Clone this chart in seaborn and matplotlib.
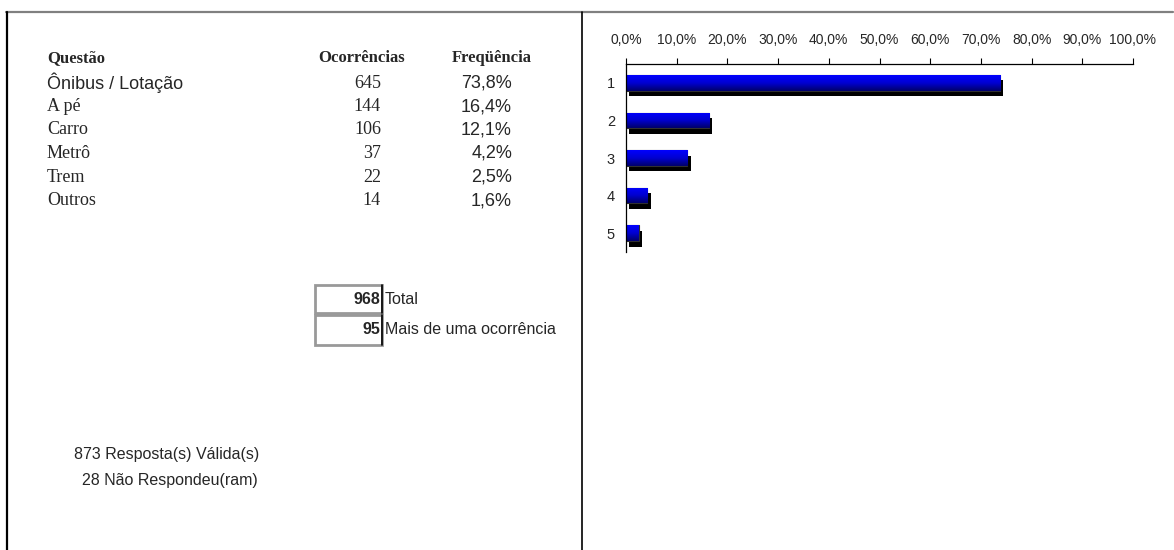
import numpy as np
import matplotlib
matplotlib.use('Agg')
import matplotlib.pyplot as plt
import matplotlib.patheffects as pe
from matplotlib.colors import LinearSegmentedColormap
from matplotlib.lines import Line2D
from matplotlib.patches import Rectangle
import seaborn as sns

# ==============================================================================
# DATA
# ==============================================================================
header = ['Questão', 'Ocorrências', 'Freqüência']
questions = ['Ônibus / Lotação', 'A pé', 'Carro', 'Metrô', 'Trem', 'Outros']
occurrences = [645, 144, 106, 37, 22, 14]
frequency = [73.8, 16.4, 12.1, 4.2, 2.5, 1.6]

bar_labels = ['1', '2', '3', '4', '5']
bar_values = [73.8, 16.4, 12.1, 4.2, 2.5]
x_ticks = [0, 10, 20, 30, 40, 50, 60, 70, 80, 90, 100]

total = 968
multi = 95
valid = 873
no_answer = 28

# ==============================================================================
# STYLE
# ==============================================================================
sns.set_style('white')
SANS = 'Liberation Sans'
SERIF = 'Liberation Serif'
plt.rcParams['font.family'] = [SANS, 'DejaVu Sans']

W, H = 1174, 550
fig = plt.figure(figsize=(W / 100, H / 100), dpi=100)
fig.patch.set_facecolor('white')


def fx(x):
    return x / W


def fy(y):
    return 1 - y / H


# frame lines
fig.add_artist(Line2D([fx(6), fx(1173)], [fy(12), fy(12)], color='#808080', lw=1.6))
fig.add_artist(Line2D([fx(7), fx(7)], [fy(12), fy(550)], color='black', lw=1.6))
fig.add_artist(Line2D([fx(582), fx(582)], [fy(12), fy(550)], color='black', lw=1.2))

# ==============================================================================
# LEFT TABLE
# ==============================================================================
fig.text(fx(47), fy(58), header[0], family=SERIF, weight='bold', fontsize=12, va='center', ha='left')
fig.text(fx(362), fy(58), header[1], family=SERIF, weight='bold', fontsize=12, va='center', ha='center')
fig.text(fx(492), fy(58), header[2], family=SERIF, weight='bold', fontsize=12, va='center', ha='center')

row_y = [83, 106.5, 130, 153.5, 177, 200.5]
for i, (q, n, f) in enumerate(zip(questions, occurrences, frequency)):
    fam = [SANS] if i == 0 else [SERIF]
    fig.text(fx(47), fy(row_y[i]), q, family=fam, fontsize=13, va='center', ha='left')
    fig.text(fx(381), fy(row_y[i]), str(n), family=SERIF, fontsize=13, va='center', ha='right')
    fig.text(fx(512), fy(row_y[i]), f"{f:.1f}%".replace('.', ','), family=SANS, fontsize=13,
             va='center', ha='right')

# totals boxes
for top, bot, val, lab in [(285, 313, total, 'Total'), (315, 345, multi, 'Mais de uma ocorrência')]:
    fig.add_artist(Rectangle((fx(315), fy(bot)), fx(382) - fx(315), fy(top) - fy(bot),
                             transform=fig.transFigure, fill=False, edgecolor='#999999', lw=2))
    fig.add_artist(Line2D([fx(382), fx(382)], [fy(top), fy(bot)], color='black', lw=1.2))
    mid = (top + bot) / 2
    fig.text(fx(380), fy(mid), str(val), weight='bold', fontsize=11.5, va='center', ha='right')
    fig.text(fx(385), fy(mid), lab, fontsize=11.5, va='center', ha='left')

fig.text(fx(74), fy(455), f"{valid} Resposta(s) Válida(s)", fontsize=11.5, va='center', ha='left')
fig.text(fx(82), fy(480), f"{no_answer} Não Respondeu(ram)", fontsize=11.5, va='center', ha='left')

# ==============================================================================
# BAR CHART
# ==============================================================================
ax = fig.add_axes([fx(626), fy(252), fx(1133) - fx(626), fy(64) - fy(252)])
sns.barplot(x=bar_values, y=bar_labels, orient='h', color='#0000ff', width=0.42,
            edgecolor='#303030', linewidth=0.8, ax=ax)

# Excel-like vertical gradient plus drop shadow on each bar
grad = LinearSegmentedColormap.from_list('grad', ['#0000ff', '#0000d0', '#00006a'])
g = np.linspace(0, 1, 64).reshape(-1, 1)
for p in ax.patches:
    p.set_path_effects([pe.SimplePatchShadow(offset=(2.4, -4.0), shadow_rgbFace='black', alpha=1.0),
                        pe.Normal()])
    x0, y0, w, h = p.get_x(), p.get_y(), p.get_width(), p.get_height()
    im = ax.imshow(g, cmap=grad, extent=(x0, x0 + w, y0 + h, y0), origin='upper',
                   aspect='auto', zorder=p.get_zorder() + 0.1)
    im.set_clip_path(p)

ax.set_xlim(0, 100)
ax.set_ylim(4.5, -0.5)
ax.xaxis.tick_top()
ax.set_xticks(x_ticks)
ax.set_xticklabels([f"{v:.1f}%".replace('.', ',') for v in x_ticks], fontsize=10)
ax.tick_params(axis='x', direction='out', length=4, width=0.8, pad=8, color='black')
ax.set_yticks(range(len(bar_labels)))
ax.set_yticklabels(bar_labels, fontsize=10.5)
ax.set_yticks(np.arange(-0.5, len(bar_labels)), minor=True)
ax.tick_params(axis='y', which='major', length=0, pad=8)
ax.tick_params(axis='y', which='minor', direction='out', length=4, width=0.8, color='black')
ax.set_xlabel('')
ax.set_ylabel('')
for s in ['right', 'bottom']:
    ax.spines[s].set_visible(False)
for s in ['top', 'left']:
    ax.spines[s].set_color('black')
    ax.spines[s].set_linewidth(0.9)
ax.set_facecolor('white')

fig.savefig('out.png', dpi=100)
